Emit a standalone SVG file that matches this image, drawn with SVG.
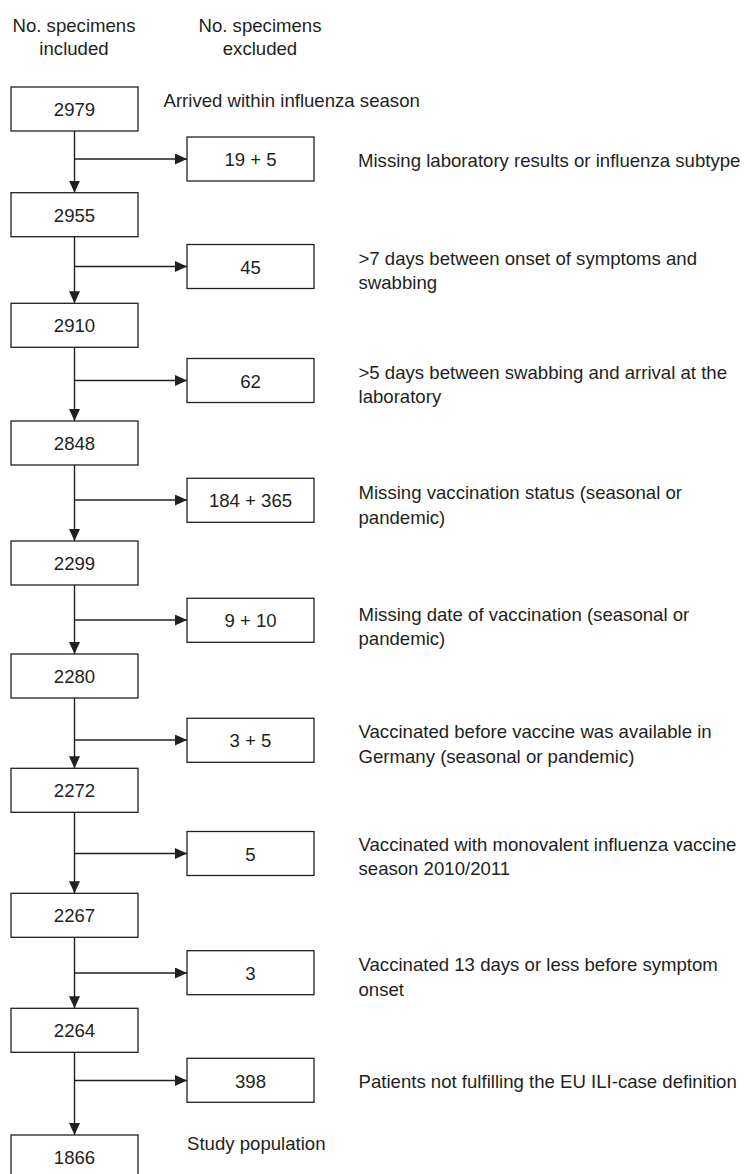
<svg xmlns="http://www.w3.org/2000/svg" width="745" height="1174" viewBox="0 0 745 1174">
<style>
  .box{fill:#fff;stroke:#231f20;stroke-width:1.3}
  .t{font-family:"Liberation Sans",Arial,sans-serif;font-size:18.6px;fill:#231f20}
  .c{text-anchor:middle}
  .h{font-size:18.6px}
  .ln{fill:none;stroke:#231f20;stroke-width:1.4}
</style>
<defs>
  <marker id="ah" markerUnits="userSpaceOnUse" markerWidth="12" markerHeight="11" refX="12" refY="5.5" orient="auto">
    <path d="M0,0 L12,5.5 L0,11 z" fill="#231f20"/>
  </marker>
</defs>
<rect width="745" height="1174" fill="#fff"/>

<g id="headers">
  <text class="t h c" x="74" y="31.5">No. specimens</text>
  <text class="t h c" x="74" y="55">included</text>
  <text class="t h c" x="260" y="31.5">No. specimens</text>
  <text class="t h c" x="260" y="55">excluded</text>
</g>

<g id="connectors">
  <line class="ln" x1="74.5" y1="131" x2="74.5" y2="192.7" marker-end="url(#ah)"/>
  <line class="ln" x1="74.5" y1="159" x2="187" y2="159" marker-end="url(#ah)"/>
  <line class="ln" x1="74.5" y1="236.7" x2="74.5" y2="303.3" marker-end="url(#ah)"/>
  <line class="ln" x1="74.5" y1="266.5" x2="187" y2="266.5" marker-end="url(#ah)"/>
  <line class="ln" x1="74.5" y1="347.3" x2="74.5" y2="421" marker-end="url(#ah)"/>
  <line class="ln" x1="74.5" y1="380.5" x2="187" y2="380.5" marker-end="url(#ah)"/>
  <line class="ln" x1="74.5" y1="465" x2="74.5" y2="541" marker-end="url(#ah)"/>
  <line class="ln" x1="74.5" y1="500" x2="187" y2="500" marker-end="url(#ah)"/>
  <line class="ln" x1="74.5" y1="585" x2="74.5" y2="654" marker-end="url(#ah)"/>
  <line class="ln" x1="74.5" y1="620" x2="187" y2="620" marker-end="url(#ah)"/>
  <line class="ln" x1="74.5" y1="698" x2="74.5" y2="768.3" marker-end="url(#ah)"/>
  <line class="ln" x1="74.5" y1="740" x2="187" y2="740" marker-end="url(#ah)"/>
  <line class="ln" x1="74.5" y1="812.3" x2="74.5" y2="893.3" marker-end="url(#ah)"/>
  <line class="ln" x1="74.5" y1="853.5" x2="187" y2="853.5" marker-end="url(#ah)"/>
  <line class="ln" x1="74.5" y1="937.3" x2="74.5" y2="1008.3" marker-end="url(#ah)"/>
  <line class="ln" x1="74.5" y1="973" x2="187" y2="973" marker-end="url(#ah)"/>
  <line class="ln" x1="74.5" y1="1052.3" x2="74.5" y2="1135" marker-end="url(#ah)"/>
  <line class="ln" x1="74.5" y1="1080.5" x2="187" y2="1080.5" marker-end="url(#ah)"/>
</g>

<g id="n2979"><rect class="box" x="11" y="87" width="127" height="44"/><text class="t c" x="74.5" y="116">2979</text></g>
<g id="n2955"><rect class="box" x="11" y="192.7" width="127" height="44"/><text class="t c" x="74.5" y="221.7">2955</text></g>
<g id="n2910"><rect class="box" x="11" y="303.3" width="127" height="44"/><text class="t c" x="74.5" y="332.3">2910</text></g>
<g id="n2848"><rect class="box" x="11" y="421" width="127" height="44"/><text class="t c" x="74.5" y="450">2848</text></g>
<g id="n2299"><rect class="box" x="11" y="541" width="127" height="44"/><text class="t c" x="74.5" y="570">2299</text></g>
<g id="n2280"><rect class="box" x="11" y="654" width="127" height="44"/><text class="t c" x="74.5" y="683">2280</text></g>
<g id="n2272"><rect class="box" x="11" y="768.3" width="127" height="44"/><text class="t c" x="74.5" y="797.3">2272</text></g>
<g id="n2267"><rect class="box" x="11" y="893.3" width="127" height="44"/><text class="t c" x="74.5" y="922.3">2267</text></g>
<g id="n2264"><rect class="box" x="11" y="1008.3" width="127" height="44"/><text class="t c" x="74.5" y="1037.3">2264</text></g>
<g id="n1866"><rect class="box" x="11" y="1135" width="127" height="44"/><text class="t c" x="74.5" y="1163.5">1866</text></g>

<g id="e1"><rect class="box" x="187" y="137" width="127" height="44"/><text class="t c" x="250.5" y="166">19 + 5</text></g>
<g id="e2"><rect class="box" x="187" y="244.5" width="127" height="44"/><text class="t c" x="250.5" y="273.5">45</text></g>
<g id="e3"><rect class="box" x="187" y="358.5" width="127" height="44"/><text class="t c" x="250.5" y="387.5">62</text></g>
<g id="e4"><rect class="box" x="187" y="478.3" width="127" height="44"/><text class="t c" x="250.5" y="507">184 + 365</text></g>
<g id="e5"><rect class="box" x="187" y="598.3" width="127" height="44"/><text class="t c" x="250.5" y="627">9 + 10</text></g>
<g id="e6"><rect class="box" x="187" y="718.3" width="127" height="44"/><text class="t c" x="250.5" y="747">3 + 5</text></g>
<g id="e7"><rect class="box" x="187" y="831.5" width="127" height="44"/><text class="t c" x="250.5" y="860.5">5</text></g>
<g id="e8"><rect class="box" x="187" y="950.7" width="127" height="44"/><text class="t c" x="250.5" y="980">3</text></g>
<g id="e9"><rect class="box" x="187" y="1058.3" width="127" height="44"/><text class="t c" x="250.5" y="1087.5">398</text></g>

<g id="labels">
  <text class="t" x="163.5" y="107">Arrived within influenza season</text>
  <text class="t" x="358" y="166.5">Missing laboratory results or influenza subtype</text>
  <text class="t" x="358.5" y="264.5">&gt;7 days between onset of symptoms and</text>
  <text class="t" x="358.5" y="289">swabbing</text>
  <text class="t" x="358.5" y="378.5">&gt;5 days between swabbing and arrival at the</text>
  <text class="t" x="358.5" y="403">laboratory</text>
  <text class="t" x="358.5" y="499.3">Missing vaccination status (seasonal or</text>
  <text class="t" x="358.5" y="524">pandemic)</text>
  <text class="t" x="358.5" y="620.5">Missing date of vaccination (seasonal or</text>
  <text class="t" x="358.5" y="645">pandemic)</text>
  <text class="t" x="358.5" y="738.3">Vaccinated before vaccine was available in</text>
  <text class="t" x="358.5" y="763">Germany (seasonal or pandemic)</text>
  <text class="t" x="358.5" y="850.5">Vaccinated with monovalent influenza vaccine</text>
  <text class="t" x="358.5" y="875">season 2010/2011</text>
  <text class="t" x="358.5" y="971">Vaccinated 13 days or less before symptom</text>
  <text class="t" x="358.5" y="995.5">onset</text>
  <text class="t" x="358.5" y="1087.5">Patients not fulfilling the EU ILI-case definition</text>
  <text class="t" x="187" y="1150">Study population</text>
</g>
</svg>
